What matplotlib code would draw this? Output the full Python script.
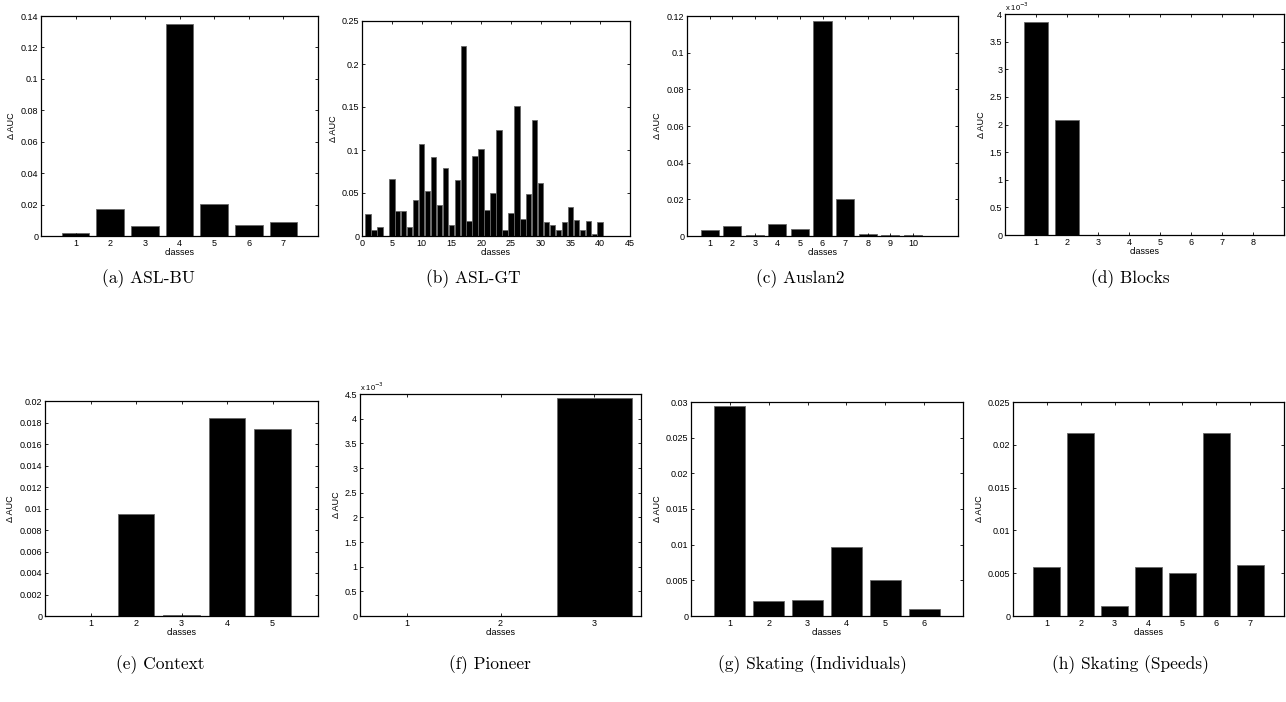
import matplotlib
matplotlib.use("Agg")
import matplotlib.pyplot as plt
from matplotlib.ticker import FuncFormatter, FixedLocator

# ---------------- data ----------------
asl_bu = [0.0019, 0.0174, 0.0064, 0.1350, 0.0206, 0.0068, 0.0089]
asl_gt = [0.0256, 0.0070, 0.0110, 0.0005, 0.0667, 0.0287, 0.0295, 0.0100,
          0.0420, 0.1067, 0.0524, 0.0924, 0.0361, 0.0792, 0.0124, 0.0652,
          0.2212, 0.0175, 0.0935, 0.1009, 0.0303, 0.0497, 0.1227, 0.0066,
          0.0264, 0.1514, 0.0194, 0.0493, 0.1347, 0.0621, 0.0163, 0.0124,
          0.0066, 0.0159, 0.0342, 0.0190, 0.0074, 0.0175, 0.0020, 0.0159]
auslan2 = [0.0035, 0.0053, 0.0003, 0.0066, 0.0038, 0.1170, 0.0201, 0.0013, 0.0003, 0.0003]
blocks = [3.85e-3, 2.08e-3, 0, 0, 0, 0, 0, 0]
context = [0.0, 0.00949, 0.0001, 0.01842, 0.0174]
pioneer = [0.01e-3, 0.01e-3, 4.41e-3]
skating_ind = [0.0295, 0.0021, 0.00224, 0.0097, 0.0050, 0.00093]
skating_spd = [0.0057, 0.02143, 0.00113, 0.00578, 0.0050, 0.0214, 0.00594]

captions = ["(a) ASL-BU", "(b) ASL-GT", "(c) Auslan2", "(d) Blocks",
            "(e) Context", "(f) Pioneer", "(g) Skating (Individuals)", "(h) Skating (Speeds)"]

W, H = 1286, 702
fig = plt.figure(figsize=(W / 100, H / 100), dpi=100)

tick_font = dict(family="Liberation Sans", size=6.5)


def make_axes(left, right, top, bottom):
    return fig.add_axes([left / W, 1 - bottom / H, (right - left) / W, (bottom - top) / H])


def fmt_g(scale=1.0):
    return FuncFormatter(lambda v, p: "%g" % round(v / scale, 6))


panels = [
    # data, box(l,r,t,b), xlim, xticks, ylim, yticks, scale, bar width
    (asl_bu, (41, 318, 16, 236), (0, 8), list(range(1, 8)), (0, 0.14),
     [0, 0.02, 0.04, 0.06, 0.08, 0.10, 0.12, 0.14], 1.0, 0.8),
    (asl_gt, (362, 630, 21, 236), (0, 45), list(range(0, 46, 5)), (0, 0.25),
     [0, 0.05, 0.10, 0.15, 0.20, 0.25], 1.0, 0.92),
    (auslan2, (687, 958, 16, 236), (0, 12), list(range(1, 11)), (0, 0.12),
     [0, 0.02, 0.04, 0.06, 0.08, 0.10, 0.12], 1.0, 0.8),
    (blocks, (1005, 1284, 14, 235), (0, 9), list(range(1, 9)), (0, 4e-3),
     [0, 0.5e-3, 1e-3, 1.5e-3, 2e-3, 2.5e-3, 3e-3, 3.5e-3, 4e-3], 1e-3, 0.8),
    (context, (45, 318, 401, 616), (0, 6), list(range(1, 6)), (0, 0.02),
     [0, 0.002, 0.004, 0.006, 0.008, 0.010, 0.012, 0.014, 0.016, 0.018, 0.020], 1.0, 0.8),
    (pioneer, (360, 641, 394, 616), (0.5, 3.5), [1, 2, 3], (0, 4.5e-3),
     [0, 0.5e-3, 1e-3, 1.5e-3, 2e-3, 2.5e-3, 3e-3, 3.5e-3, 4e-3, 4.5e-3], 1e-3, 0.8),
    (skating_ind, (691, 963, 402, 616), (0, 7), list(range(1, 7)), (0, 0.03),
     [0, 0.005, 0.010, 0.015, 0.020, 0.025, 0.030], 1.0, 0.8),
    (skating_spd, (1013, 1284, 402, 616), (0, 8), list(range(1, 8)), (0, 0.025),
     [0, 0.005, 0.010, 0.015, 0.020, 0.025], 1.0, 0.8),
]

caption_pos = [(148, 279), (473, 279), (800, 279), (1130, 279),
               (160, 665), (490, 665), (812, 665), (1130, 665)]

for (data, box, xlim, xticks, ylim, yticks, scale, bw), cap, cpos in zip(panels, captions, caption_pos):
    ax = make_axes(*box)
    xs = list(range(1, len(data) + 1))
    ax.bar(xs, data, width=bw, color="black", edgecolor="#666666", linewidth=0.6)
    ax.set_xlim(*xlim)
    ax.set_ylim(*ylim)
    ax.xaxis.set_major_locator(FixedLocator(xticks))
    ax.yaxis.set_major_locator(FixedLocator(yticks))
    ax.xaxis.set_major_formatter(fmt_g())
    ax.yaxis.set_major_formatter(fmt_g(scale))
    ax.tick_params(direction="in", length=2.5, width=0.6, top=True, right=True,
                   labelsize=tick_font["size"], pad=2)
    for lab in ax.get_xticklabels() + ax.get_yticklabels():
        lab.set_fontfamily(tick_font["family"])
    for sp in ax.spines.values():
        sp.set_linewidth(0.9)
    ax.set_xlabel("classes", fontdict=tick_font, labelpad=0)
    ax.set_ylabel("\u0394 AUC", fontdict=tick_font, labelpad=3)
    if scale != 1.0:
        ax.text(0.0, 1.005, "x 10$^{-3}$", transform=ax.transAxes, ha="left", va="bottom",
                fontsize=5.5, fontfamily="Liberation Sans")
    fig.text(cpos[0] / W, 1 - cpos[1] / H, cap, ha="center", va="center",
             fontsize=12.5, fontfamily="cmr10")

fig.savefig("out.png", dpi=100)
